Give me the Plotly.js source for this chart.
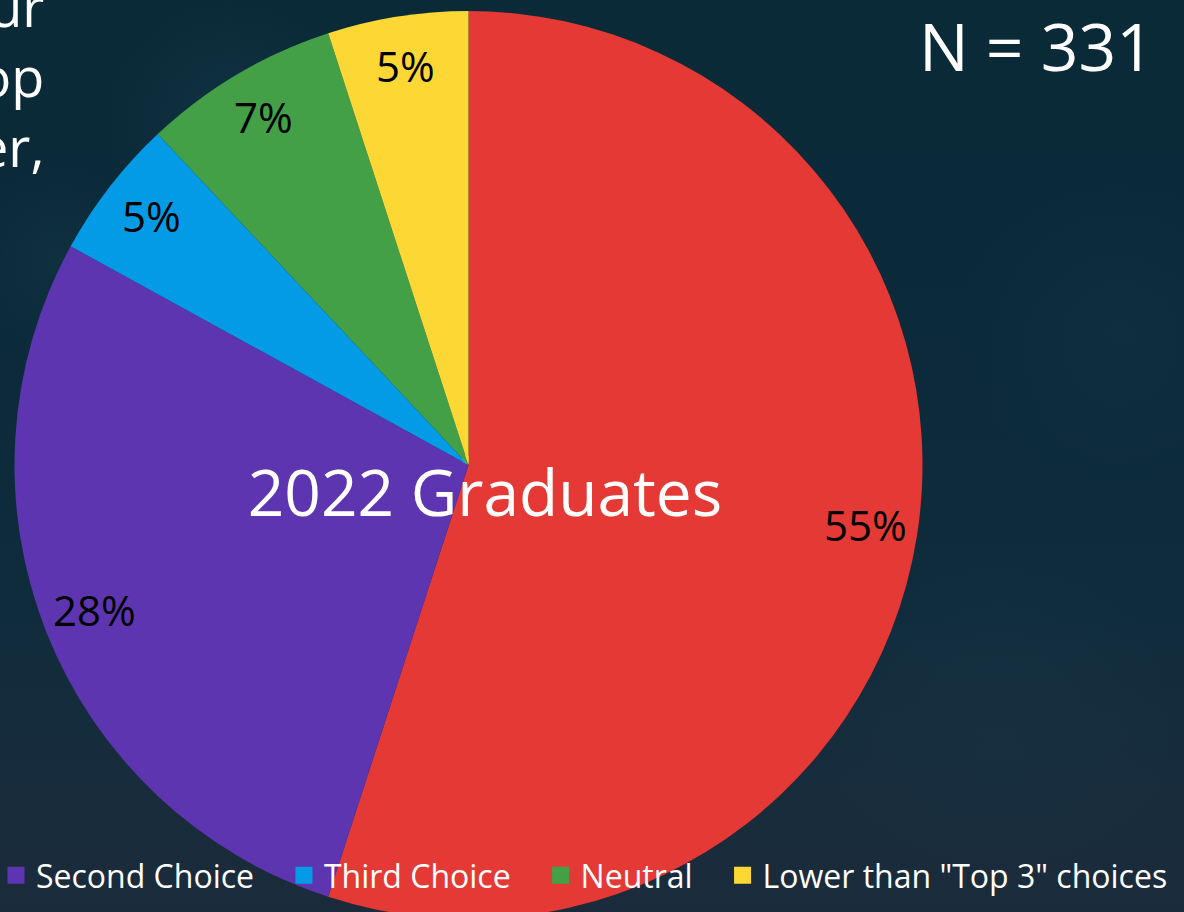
<!DOCTYPE html>
<html>
<head>
<meta charset="utf-8">
<script src="https://cdn.plot.ly/plotly-3.0.1.min.js"></script>
<style>
  html, body { margin: 0; padding: 0; width: 1184px; height: 912px; overflow: hidden; }
  body {
    background:
      radial-gradient(circle at 230px 120px, rgba(30,75,90,0.22) 0px, rgba(0,0,0,0) 130px),
      radial-gradient(circle at 60px 260px, rgba(25,70,85,0.22) 0px, rgba(0,0,0,0) 100px),
      radial-gradient(circle at 1120px 330px, rgba(30,70,85,0.15) 0px, rgba(0,0,0,0) 160px),
      radial-gradient(circle at 1000px 720px, rgba(35,70,85,0.14) 0px, rgba(0,0,0,0) 180px),
      linear-gradient(180deg, #0b2a38 0%, #0c2a3a 40%, #0f2c3c 65%, #172c3c 85%, #1b2b3b 100%);
  }
  #chart { width: 1188px; height: 920px; margin-left: -4px; }
</style>
</head>
<body>
<div id="chart"></div>
<script>
// ---- data ----
const categories = ["First Choice", "Second Choice", "Third Choice", "Neutral", "Lower than \"Top 3\" choices"];
const percents = [55, 28, 5, 7, 5];
const sliceColors = ["#E53935", "#5E35B1", "#039BE5", "#43A047", "#FDD835"];
const chartTitle = "2022 Graduates";
const sampleNote = "N = 331";
const slideTextFragments = ["ur", "op", "er,"];

// ---- geometry / style ----
const W = 1188, H = 920, OX = 4;          // figure is shifted 4px left in the page
const CX = 468.5 + OX, CY = 465, R = 454; // pie centre / radius in figure pixels
const pieDomain = { x: [(CX - R) / W, (CX + R) / W], y: [1 - (CY + R) / H, 1 - (CY - R) / H] };
const LABEL_R = 0.885;
const FONT = "Open Sans, Noto Sans, sans-serif";
const NB = "\u00a0\u00a0\u00a0";

// slice label positions derived from the data (mid-angle of each slice)
const total = percents.reduce((a, b) => a + b, 0);
let acc = 0;
const sliceLabels = percents.map(v => {
  const mid = (acc + v / 2) / total * 2 * Math.PI; acc += v;
  return {
    text: v + "%",
    xref: "paper", yref: "paper",
    x: (CX + LABEL_R * R * Math.sin(mid)) / W,
    y: 1 - (CY - LABEL_R * R * Math.cos(mid)) / H,
    xanchor: "center", yanchor: "middle",
    yshift: 3,
    showarrow: false,
    font: { family: FONT, size: 42, color: "#000000" }
  };
});

const legendCarrier = {
  type: "pie",
  labels: categories.slice(1).map((c, i, a) => i < a.length - 1 ? c + NB : c),
  values: percents.slice(1),
  marker: { colors: sliceColors.slice(1), line: { color: sliceColors.slice(1), width: 9 } },
  sort: false,
  direction: "clockwise",
  textinfo: "none",
  hoverinfo: "skip",
  showlegend: true,
  domain: { x: [0.3960, 0.3962], y: [0.5, 0.5002] }
};

const mainPie = {
  type: "pie",
  labels: categories,
  values: percents,
  marker: { colors: sliceColors, line: { width: 0 } },
  sort: false,
  direction: "clockwise",
  rotation: 0,
  textinfo: "none",
  hoverinfo: "label+percent",
  showlegend: false,
  domain: pieDomain
};

const layout = {
  width: W, height: H,
  margin: { l: 0, r: 0, t: 0, b: 0 },
  paper_bgcolor: "rgba(0,0,0,0)",
  plot_bgcolor: "rgba(0,0,0,0)",
  font: { family: FONT, color: "#ffffff" },
  title: {
    text: chartTitle,
    font: { family: FONT, size: 64, color: "#ffffff" },
    x: (485 + OX) / W, xanchor: "center",
    y: 1 - 494 / H, yanchor: "middle",
    xref: "paper", yref: "container"
  },
  showlegend: true,
  legend: {
    orientation: "h",
    x: 0, xanchor: "left",
    y: 1 - 848 / H, yanchor: "top",
    bgcolor: "rgba(0,0,0,0)",
    font: { family: FONT, size: 32, color: "#ffffff" },
    traceorder: "normal"
  },
  annotations: sliceLabels.concat([
    {
      text: sampleNote,
      xref: "paper", yref: "paper",
      x: (1036 + OX) / W, xanchor: "center",
      y: 1 - 45 / H, yanchor: "middle",
      showarrow: false,
      borderpad: 0,
      font: { family: FONT, size: 66, color: "#ffffff" }
    },
    {
      text: slideTextFragments.join("<br>"),
      xref: "paper", yref: "paper",
      x: (46 + OX) / W, xanchor: "right",
      y: 1 + 33 / H, yanchor: "top",
      align: "right",
      showarrow: false,
      font: { family: FONT, size: 54, color: "#ffffff" }
    }
  ])
};

Plotly.newPlot("chart", [legendCarrier, mainPie], layout, { staticPlot: true, displayModeBar: false });
</script>
</body>
</html>
